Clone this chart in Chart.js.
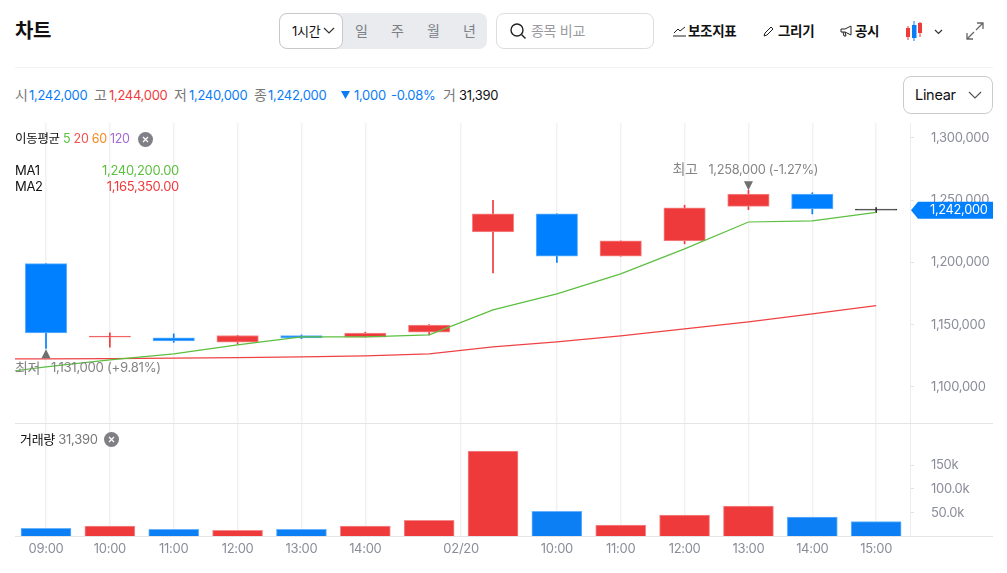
<!DOCTYPE html>
<html lang="ko">
<head>
<meta charset="utf-8">
<title>차트</title>
<script src="https://cdn.jsdelivr.net/npm/chart.js@4"></script>
<style>
html, body { margin: 0; padding: 0; background: #fff; overflow: hidden; }
body { width: 1007px; height: 573px; position: relative; font-family: Inter, "Noto Sans CJK KR", sans-serif; font-size: 13px; color: #111; letter-spacing: -0.3px; }
.t { position: absolute; white-space: nowrap; line-height: 20px; }
.h { font-size: 14px; }
.box { position: absolute; box-sizing: border-box; border-radius: 8px; }
.rule { position: absolute; height: 1px; left: 15px; width: 978px; }
.g { color: #777; font-size: 14px; }
.b { color: #0a7cf5; }
.r { color: #ef3a3c; }
.k { font-weight: 700; }
canvas { position: absolute; left: 15px; }
svg { position: absolute; }
</style>
</head>
<body>
<div class="t k" style="left:15px;top:20px;font-size:20px;line-height:22px;">차트</div>

<div class="box" style="left:279px;top:13px;width:208px;height:36px;background:#e9ebee;"></div>
<div class="box" style="left:279px;top:13px;width:64px;height:36px;background:#fff;border:1px solid #c9c9cc;"></div>
<div class="t" style="left:292px;top:21px;">1시간</div>
<svg style="left:323px;top:27px" width="12" height="8" fill="none" stroke="#333" stroke-width="1.2"><path d="M1 1l5 5 5-5"/></svg>
<div class="t h" style="left:355px;top:21px;color:#7b8087;">일</div>
<div class="t h" style="left:391px;top:21px;color:#7b8087;">주</div>
<div class="t h" style="left:427px;top:21px;color:#7b8087;">월</div>
<div class="t h" style="left:463px;top:21px;color:#7b8087;">년</div>

<div class="box" style="left:496px;top:13px;width:158px;height:36px;border:1px solid #ddd;"></div>
<svg style="left:509px;top:22px" width="18" height="18" fill="none" stroke="#222" stroke-width="1.4"><circle cx="8" cy="8" r="6"/><path d="M12.5 12.5l4 4"/></svg>
<div class="t h" style="left:531px;top:21px;color:#9a9a9f;">종목 비교</div>

<svg style="left:673px;top:25px" width="14" height="12" fill="none" stroke="#222" stroke-width="1"><path d="M1 8l4-4 2 2 5-4"/><path d="M0 11h13"/></svg>
<div class="t k" style="left:688px;top:21px;font-size:13.5px;">보조지표</div>
<svg style="left:763px;top:25px" width="12" height="12" fill="none" stroke="#222" stroke-width="1"><path d="M1 11l1-3 6-6 2 2-6 6z"/></svg>
<div class="t k" style="left:778px;top:21px;font-size:13.5px;">그리기</div>
<svg style="left:840px;top:25px" width="13" height="12" fill="none" stroke="#222" stroke-width="1"><path d="M1 4h4l6-3v9l-6-3H1zM3 7l1 4h2l-1-4"/></svg>
<div class="t k" style="left:855px;top:21px;font-size:13.5px;">공시</div>

<svg style="left:905px;top:20px" width="18" height="22" stroke-width="1">
  <path d="M3 6v14" stroke="#ef3a3c"/><rect x="1" y="8" width="4" height="9" fill="#ef3a3c"/>
  <path d="M9 1v20" stroke="#0a7cf5"/><rect x="7" y="5" width="4.5" height="13" fill="#0a7cf5"/>
  <path d="M15 2v15" stroke="#ef3a3c"/><rect x="13" y="3" width="4" height="10" fill="#ef3a3c"/>
</svg>
<svg style="left:934px;top:29px" width="9" height="6" fill="none" stroke="#333" stroke-width="1.2"><path d="M1 1l3.500 3.500L8 1"/></svg>
<svg style="left:966px;top:22px" width="18" height="18" fill="none" stroke="#666" stroke-width="1.300"><path d="M11 1h6v6M17 1L10 8M1 11v6h6M1 17l7-7"/></svg>

<div class="rule" style="top:67px;background:#f3f3f4;"></div>

<div class="t g" style="left:15px;top:85px;">시</div><div class="t b" style="left:29px;top:85px;">1,242,000</div>
<div class="t g" style="left:94px;top:85px;">고</div><div class="t r" style="left:109px;top:85px;">1,244,000</div>
<div class="t g" style="left:174px;top:85px;">저</div><div class="t b" style="left:189px;top:85px;">1,240,000</div>
<div class="t g" style="left:254px;top:85px;">종</div><div class="t b" style="left:268px;top:85px;">1,242,000</div>
<svg style="left:341px;top:91px" width="9" height="8"><path d="M0 0h9L4.500 8z" fill="#0a7cf5"/></svg>
<div class="t b" style="left:354px;top:85px;">1,000</div>
<div class="t b" style="left:391px;top:85px;">-0.08%</div>
<div class="t g" style="left:443px;top:85px;">거</div><div class="t" style="left:459px;top:85px;">31,390</div>

<div class="box" style="left:903px;top:76px;width:90px;height:38px;border:1px solid #ccc;"></div>
<div class="t" style="left:915px;top:85px;font-size:14.5px;">Linear</div>
<svg style="left:968px;top:91px" width="14" height="9" fill="none" stroke="#555" stroke-width="1.200"><path d="M1 1l6 6 6-6"/></svg>

<canvas id="priceChart" width="978" height="300" style="top:123px;"></canvas>
<div class="rule" style="top:423px;background:#e4e4e6;"></div>
<canvas id="volumeChart" width="978" height="149" style="top:424px;"></canvas>
<div class="rule" style="top:536px;background:#e4e4e6;"></div>

<div class="t" style="left:15px;top:129px;font-size:12.5px;">이동평균 <span style="color:#5cbf3f">5</span> <span style="color:#ef5350">20</span> <span style="color:#f58a1f">60</span> <span style="color:#a56ad6">120</span></div>
<svg style="left:138px;top:132px" width="15" height="15"><circle cx="7.500" cy="7.500" r="7.500" fill="#7f7f86"/><path d="M5 5l5 5M10 5l-5 5" stroke="#fff" stroke-width="1.300"/></svg>
<div class="t" style="left:15px;top:160px;">MA1</div>
<div class="t" style="right:828px;top:160px;color:#5cbf3f;">1,240,200.00</div>
<div class="t" style="left:15px;top:176px;">MA2</div>
<div class="t" style="right:828px;top:176px;color:#ef3a3c;">1,165,350.00</div>

<div class="t" style="left:20px;top:429px;">거래량 <span style="color:#777;">31,390</span></div>
<svg style="left:104px;top:432px" width="15" height="15"><circle cx="7.500" cy="7.500" r="7.500" fill="#7f7f86"/><path d="M5 5l5 5M10 5l-5 5" stroke="#fff" stroke-width="1.300"/></svg>

<script>
// candles, one per hour slot
var candleSlots = [0, 1, 2, 3, 4, 5, 6, 7, 8, 9, 10, 11, 12, 13];
var candleOpen = [1199000, 1140000, 1139400, 1136000, 1141300, 1140000, 1144000, 1224500, 1239000, 1205000, 1217300, 1245000, 1255000, 1242000];
var candleClose = [1143400, 1140400, 1137000, 1141300, 1139400, 1143200, 1149600, 1239000, 1205000, 1217300, 1243800, 1255000, 1243000, 1242000];
var candleHigh = [1199000, 1143400, 1142600, 1141500, 1141800, 1144000, 1150000, 1250000, 1239000, 1217300, 1246000, 1258000, 1256000, 1244000];
var candleLow = [1131000, 1132000, 1135800, 1134500, 1138800, 1140000, 1141800, 1191600, 1200000, 1205000, 1215000, 1242500, 1239000, 1240000];

// moving averages start one slot before the visible range
var maSlots = [-1, 0, 1, 2, 3, 4, 5, 6, 7, 8, 9, 10, 11, 12, 13];
var ma1Values = [1109700, 1116100, 1121700, 1126600, 1133800, 1140200, 1140200, 1141800, 1161900, 1174700, 1190800, 1210900, 1232500, 1233400, 1240200];
var ma2Values = [1122500, 1122500, 1122700, 1123100, 1123600, 1124100, 1124900, 1126600, 1132200, 1136200, 1141000, 1146600, 1152200, 1158700, 1165350];

var volumeValues = [17200, 22000, 15100, 13000, 15100, 22000, 34000, 179600, 52900, 24100, 45200, 64000, 41000, 31390];

var priceTicks = [1100000, 1150000, 1200000, 1250000, 1300000];
var volumeTicks = [50000, 100000, 150000];
var volumeTickLabels = ['50.0k', '100.0k', '150k'];
var timeTicks = [0, 1, 2, 3, 4, 5, 6.5, 8, 9, 10, 11, 12, 13];
var timeTickLabels = ['09:00', '10:00', '11:00', '12:00', '13:00', '14:00', '02/20', '10:00', '11:00', '12:00', '13:00', '14:00', '15:00'];

const RED = '#ef3a3c';
const BLUE = '#007fff';
const DOJI = '#333333';
const FONT = 'Inter, "Noto Sans CJK KR", sans-serif';
const TICK_COLOR = '#8a8c99';

function candleColor(i) {
    if (candleOpen[i] === candleClose[i]) return DOJI;
    return candleClose[i] > candleOpen[i] ? RED : BLUE;
}
var candleColors = candleSlots.map(candleColor);

// pale edge around the filled bars
function edgeColor(col) {
    if (col === RED) return '#f48a8b';
    if (col === BLUE) return '#66b2ff';
    return col;
}

function setTicks(values) {
    return function(scale) {
        scale.ticks = values.map(function(v) { return { value: v }; });
    };
}

function noPadding(scale) {
    scale.paddingLeft = 0;
    scale.paddingRight = 0;
    scale.paddingTop = 0;
    scale.paddingBottom = 0;
}

// shared x axis, both panels line up on the same slots
function timeAxis(showLabels) {
    return {
        type: 'linear',
        offset: false,
        min: -0.4855,
        max: 13.53,
        afterBuildTicks: setTicks(timeTicks),
        afterFit: function(scale) {
            noPadding(scale);
            scale.height = showLabels ? 36.5 : 0;
        },
        border: { display: false },
        grid: { offset: false, color: '#f1f1f3', lineWidth: 1.5, drawTicks: false },
        ticks: {
            display: showLabels,
            autoSkip: false,
            maxRotation: 0,
            padding: 5,
            color: TICK_COLOR,
            font: { family: FONT, size: 13 },
            callback: function(value) { return timeTickLabels[timeTicks.indexOf(value)]; }
        }
    };
}

function sideAxis(min, max, ticks, label) {
    return {
        position: 'right',
        offset: false,
        min: min,
        max: max,
        afterBuildTicks: setTicks(ticks),
        afterFit: function(scale) {
            noPadding(scale);
            scale.width = 83;
        },
        border: { color: '#ededef' },
        grid: { drawOnChartArea: false, tickLength: 4, tickColor: '#e2e2e4' },
        ticks: {
            crossAlign: 'near',
            padding: 17,
            color: TICK_COLOR,
            font: { family: FONT, size: 13 },
            callback: label
        }
    };
}

// highest / lowest price markers and the last price tag
var priceLabels = {
    id: 'priceLabels',
    afterDatasetsDraw: function(chart) {
        var c = chart.ctx, x = chart.scales.x, y = chart.scales.y;
        var top = Math.max.apply(null, candleHigh), bottom = Math.min.apply(null, candleLow);
        var last = candleClose[candleClose.length - 1];
        var hx = x.getPixelForValue(candleHigh.indexOf(top)), hy = y.getPixelForValue(top);
        var lx = x.getPixelForValue(candleLow.indexOf(bottom)), ly = y.getPixelForValue(bottom);
        var ty = y.getPixelForValue(last);
        c.save();
        c.fillStyle = '#6f6f6f';
        c.beginPath(); c.moveTo(hx - 4.5, hy - 9); c.lineTo(hx + 4.5, hy - 9); c.lineTo(hx, hy); c.fill();
        c.beginPath(); c.moveTo(lx - 4.5, ly + 10); c.lineTo(lx + 4.5, ly + 10); c.lineTo(lx, ly + 1); c.fill();

        c.fillStyle = '#858585';
        c.textBaseline = 'middle';
        c.font = '14px ' + FONT;
        c.fillText('최고', hx - 76, hy - 20);
        c.fillText('최저', lx - 31, ly + 20);
        c.font = '12.8px ' + FONT;
        c.fillText('1,258,000 (-1.27%)', hx - 40, hy - 20);
        c.font = '13.2px ' + FONT;
        c.fillText('1,131,000 (+9.81%)', lx + 5, ly + 20);

        c.fillStyle = BLUE;
        c.beginPath();
        c.moveTo(x.right + 1, ty);
        c.lineTo(x.right + 8, ty - 8.500);
        c.lineTo(chart.width, ty - 8.500);
        c.lineTo(chart.width, ty + 8.500);
        c.lineTo(x.right + 8, ty + 8.500);
        c.closePath();
        c.fill();
        c.fillStyle = '#fff';
        c.font = '12.8px ' + FONT;
        c.fillText(last.toLocaleString('en-US'), x.right + 20, ty);
        c.restore();
    }
};

new Chart(document.getElementById('priceChart'), {
    type: 'bar',
    data: {
        datasets: [
            {
                type: 'line',
                data: maSlots.map(function(s, i) { return { x: s, y: ma1Values[i] }; }),
                borderColor: '#5cbf3f',
                borderWidth: 1.2,
                pointRadius: 0,
                tension: 0,
                order: 0
            },
            {
                type: 'line',
                data: maSlots.map(function(s, i) { return { x: s, y: ma2Values[i] }; }),
                borderColor: '#ef4245',
                borderWidth: 1.2,
                pointRadius: 0,
                tension: 0,
                order: 0
            },
            {
                // body
                data: candleSlots.map(function(s, i) { return { x: s, y: [candleOpen[i], candleClose[i]] }; }),
                backgroundColor: candleColors,
                borderColor: candleColors.map(edgeColor),
                borderWidth: 1,
                borderSkipped: false,
                barThickness: 41.5,
                minBarLength: 1,
                grouped: false,
                order: 1
            },
            {
                // wick
                data: candleSlots.map(function(s, i) { return { x: s, y: [candleLow[i], candleHigh[i]] }; }),
                backgroundColor: candleColors,
                barThickness: 1,
                grouped: false,
                order: 2
            }
        ]
    },
    options: {
        responsive: false,
        animation: false,
        layout: { padding: 0 },
        plugins: { legend: { display: false }, tooltip: { enabled: false } },
        scales: {
            x: timeAxis(false),
            y: sideAxis(1071000, 1312050, priceTicks, function(v) { return v.toLocaleString('en-US'); })
        }
    },
    plugins: [priceLabels]
});

// unchanged sessions count as blue in the volume panel
var volumeColors = candleColors.map(function(col) { return col === RED ? RED : '#0d7ff5'; });

new Chart(document.getElementById('volumeChart'), {
    type: 'bar',
    data: {
        datasets: [{
            data: candleSlots.map(function(s, i) { return { x: s, y: volumeValues[i] }; }),
            backgroundColor: volumeColors,
            borderColor: volumeColors.map(function(col) { return col === RED ? edgeColor(RED) : edgeColor(BLUE); }),
            borderWidth: 1,
            borderSkipped: 'start',
            barThickness: 50,
            grouped: false
        }]
    },
    options: {
        responsive: false,
        animation: false,
        layout: { padding: 0 },
        plugins: { legend: { display: false }, tooltip: { enabled: false } },
        scales: {
            x: timeAxis(true),
            y: sideAxis(0, 236300, volumeTicks, function(v) { return volumeTickLabels[volumeTicks.indexOf(v)]; })
        }
    }
});
</script>
</body>
</html>
